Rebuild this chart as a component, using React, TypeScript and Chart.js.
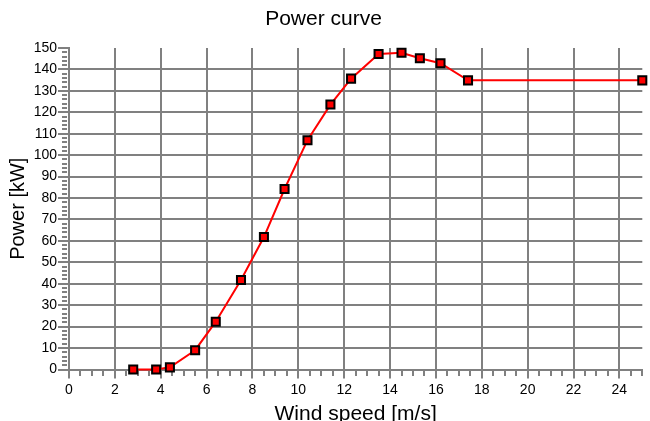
import React, { useEffect, useRef } from "react";
import { Chart, registerables } from "chart.js";

Chart.register(...registerables);

// Data
const windSpeed = [2.8, 3.8, 4.4, 5.5, 6.4, 7.5, 8.5, 9.4, 10.4, 11.4, 12.3, 13.5, 14.5, 15.3, 16.2, 17.4, 25];
const power = [0, 0, 1, 9, 22.3, 41.8, 61.8, 84.2, 107, 123.6, 135.7, 147.2, 147.8, 145.2, 142.9, 134.9, 134.9];

const xMin = 0;
const xMax = 25;
const xMajorStep = 2;
const xMinorStep = 0.5;
const yMin = 0;
const yMax = 150;
const yMajorStep = 10;
const yMinorStep = 2;

const titleText = "Power curve";
const xTitle = "Wind speed [m/s]";
const yTitle = "Power [kW]";

const FONT = "'Liberation Sans', Arial, Helvetica, sans-serif";
const GRID = "#808080";

export default function App() {
  const ref = useRef<HTMLCanvasElement>(null);

  useEffect(() => {
    document.body.style.margin = "0";
    const minorTicks = {
      id: "minorTicks",
      beforeDatasetsDraw(chart: any) {
        const { ctx } = chart;
        const x = chart.scales.x;
        const y = chart.scales.y;
        ctx.save();
        ctx.strokeStyle = GRID;
        ctx.lineWidth = 2;
        ctx.beginPath();
        for (let v = xMin; v <= xMax + 1e-9; v += xMinorStep) {
          if (Math.abs(v / xMajorStep - Math.round(v / xMajorStep)) < 1e-6) continue;
          const px = Math.round(x.getPixelForValue(v));
          ctx.moveTo(px, y.bottom);
          ctx.lineTo(px, y.bottom + 6.5);
        }
        for (let v = yMin; v <= yMax + 1e-9; v += yMinorStep) {
          if (Math.abs(v / yMajorStep - Math.round(v / yMajorStep)) < 1e-6) continue;
          const py = Math.round(y.getPixelForValue(v));
          ctx.moveTo(x.left - 7, py);
          ctx.lineTo(x.left - 2, py);
        }
        ctx.stroke();
        ctx.restore();
      },
    };

    const chart = new Chart(ref.current!, {
      type: "scatter",
      data: {
        datasets: [
          {
            data: windSpeed.map((w, i) => ({ x: w, y: power[i] })),
            showLine: true,
            borderColor: "#ff0000",
            borderWidth: 2,
            pointStyle: "rect",
            pointRadius: 5.7,
            pointBackgroundColor: "#ff0000",
            pointBorderColor: "#000000",
            pointBorderWidth: 2,
            clip: false,
          } as any,
        ],
      },
      options: {
        animation: false,
        responsive: false,
        devicePixelRatio: 1,
        layout: { padding: { top: 0, right: 3, bottom: 0, left: 0 } },
        plugins: {
          legend: { display: false },
          tooltip: { enabled: false },
          title: {
            display: true,
            text: titleText,
            color: "#000",
            font: { family: FONT, size: 21, weight: "normal", lineHeight: 1.2 },
            padding: { top: 7, bottom: 15.8 },
          },
        },
        scales: {
          x: {
            type: "linear",
            min: xMin,
            max: xMax,
            afterFit: (s: any) => {
              s.height = 51.5;
            },
            ticks: {
              stepSize: xMajorStep,
              includeBounds: false,
              color: "#000",
              font: { family: FONT, size: 14 },
              padding: 3,
              maxRotation: 0,
            },
            grid: {
              color: GRID,
              lineWidth: 2,
              drawTicks: true,
              tickLength: 9,
              tickColor: GRID,
            },
            border: { display: true, color: GRID, width: 2 },
            title: {
              display: true,
              text: xTitle,
              color: "#000",
              font: { family: FONT, size: 21, lineHeight: 1 },
              padding: { top: 0, bottom: -4 },
            },
          },
          y: {
            type: "linear",
            min: yMin,
            max: yMax,
            afterFit: (s: any) => {
              s.width = 69;
            },
            ticks: {
              stepSize: yMajorStep,
              color: "#000",
              font: { family: FONT, size: 14 },
              padding: 1,
            },
            grid: {
              color: (c: any) => (c.tick && c.tick.value === yMax ? "rgba(0,0,0,0)" : GRID),
              lineWidth: 2,
              drawTicks: true,
              tickLength: 11,
              tickColor: GRID,
            },
            border: { display: true, color: GRID, width: 2 },
            title: {
              display: true,
              text: yTitle,
              color: "#000",
              font: { family: FONT, size: 20, lineHeight: 1.2 },
              padding: { top: 6, bottom: 0 },
            },
          },
        },
      },
      plugins: [minorTicks],
    } as any);
    return () => chart.destroy();
  }, []);

  return <canvas ref={ref} width={650} height={421} style={{ display: "block" }} />;
}
